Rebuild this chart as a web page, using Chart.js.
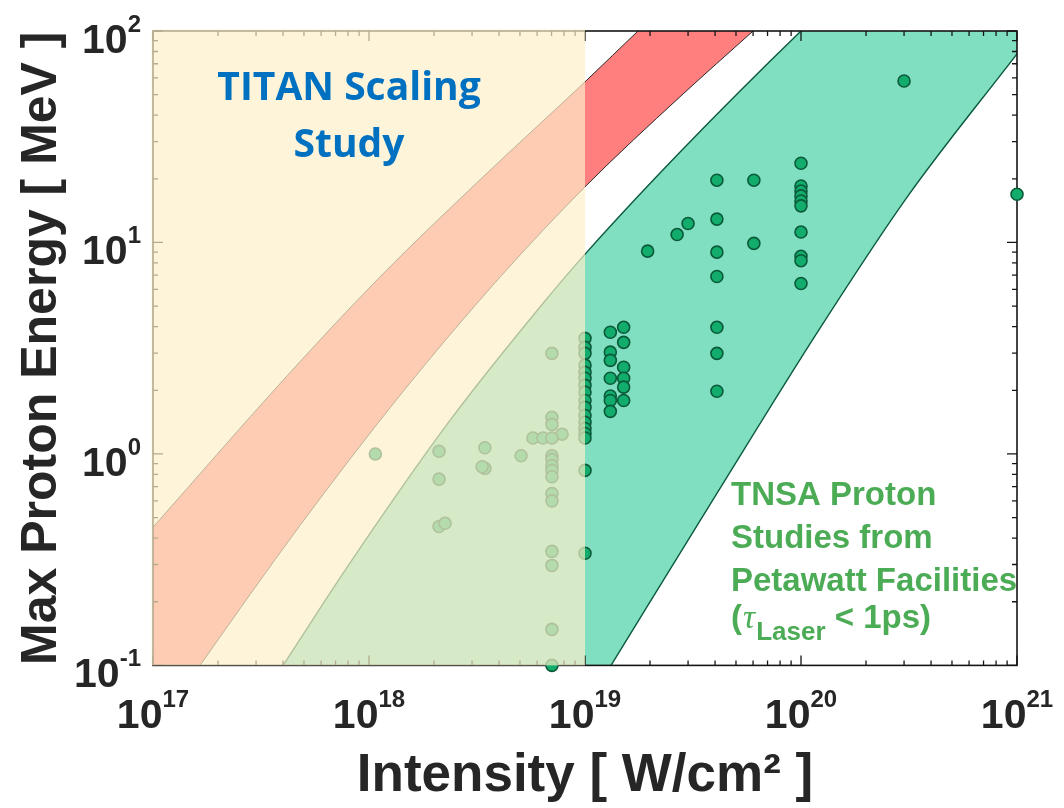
<!DOCTYPE html>
<html>
<head>
<meta charset="utf-8">
<script src="https://cdn.jsdelivr.net/npm/chart.js@4.4.1/dist/chart.umd.min.js"></script>
<style>
  html, body { margin: 0; padding: 0; background: #ffffff; }
  #wrap { width: 1064px; height: 808px; position: relative; }
  canvas { display: block; }
</style>
</head>
<body>
<div id="wrap"><canvas id="chart" width="1064" height="808"></canvas></div>
<script>
// ---- axes ----
const xRange = [1e17, 1e21];          // laser intensity, W/cm^2
const yRange = [0.1, 100];            // max proton energy, MeV
const xDecadeExps = [17, 18, 19, 20, 21];
const yDecadeExps = [-1, 0, 1, 2];
const titanLimitIntensity = 1e19;     // TITAN study covers intensities below this

// ---- scaling bands: intensity (W/cm^2) and energy (MeV) along each edge ----
const redUpperI   = [1e17, 4.0e17, 1.12e18, 3.37e18, 1.02e19, 1.76e19, 6.0e19];
const redUpperE   = [0.45, 2.23, 6.85, 20.4, 58.6, 100, 320];
const redLowerI   = [1e17, 1.65e17, 4.8e17, 1.39e18, 4.04e18, 1.02e19, 2.75e19, 6.0e19];
const redLowerE   = [0.048, 0.1, 0.46, 1.89, 6.85, 18.7, 48.8, 100];
const greenUpperI = [4.0e17, 8.2e17, 2.37e18, 6.4e18, 1.02e19, 2.75e19, 1.0e20, 1.0e21];
const greenUpperE = [0.1, 0.307, 1.44, 5.16, 9.0, 26.7, 100, 900];
const greenLowerI = [4.0e17, 1.32e19, 4.08e19, 1.19e20, 3.1e20, 1.0e21];
const greenLowerE = [0.0003, 0.1, 0.651, 3.76, 16.4, 78];

// ---- measured shots: intensity (W/cm^2) and max proton energy (MeV) ----
const shotIntensity = [
  1.07e18,
  2.11e18, 2.11e18, 2.11e18, 2.25e18,
  3.44e18, 3.44e18, 3.34e18,
  5.06e18, 5.74e18, 6.39e18, 7.83e18,
  7.03e18, 7.03e18, 7.03e18, 7.03e18, 7.03e18, 7.03e18, 7.03e18, 7.03e18,
  7.03e18, 7.03e18, 7.03e18, 7.03e18, 7.03e18, 7.03e18, 7.03e18,
  1e19, 1e19, 1e19, 1e19, 1e19, 1e19, 1e19, 1e19, 1e19,
  1e19, 1e19, 1e19, 1e19, 1e19, 1e19, 1e19, 1e19,
  1.31e19, 1.31e19, 1.31e19, 1.31e19, 1.31e19, 1.31e19, 1.31e19,
  1.51e19, 1.51e19, 1.51e19, 1.51e19, 1.51e19, 1.51e19,
  1.95e19, 2.67e19, 3.0e19,
  4.08e19, 4.08e19, 4.08e19, 4.08e19, 4.08e19, 4.08e19, 4.08e19,
  6.05e19, 6.05e19,
  1e20, 1e20, 1e20, 1e20, 1e20, 1e20, 1e20, 1e20, 1e20, 1e20,
  3.0e20, 1e21
];
const shotEnergy = [
  1.0,
  1.03, 0.76, 0.454, 0.47,
  1.07, 0.855, 0.87,
  0.98, 1.19, 1.19, 1.24,
  2.99, 1.49, 1.38, 1.19, 0.98, 0.94, 0.88, 0.836,
  0.78, 0.65, 0.60, 0.346, 0.297, 0.148, 0.1,
  3.52, 3.19, 2.99, 2.63, 2.43, 2.28, 2.11, 1.96, 1.79,
  1.66, 1.52, 1.41, 1.32, 1.25, 1.19, 0.836, 0.339,
  3.76, 3.03, 2.77, 2.28, 1.88, 1.79, 1.59,
  3.97, 3.37, 2.57, 2.28, 2.07, 1.79,
  9.1, 10.9, 12.3,
  19.7, 12.9, 9.0, 6.9, 3.97, 2.99, 1.98,
  19.7, 9.9,
  23.7, 18.5, 17.5, 16.6, 15.7, 14.9, 11.2, 8.6, 8.2, 6.4,
  58, 16.9
];

const pairs = (xs, ys) => xs.map((x, i) => ({ x: x, y: ys[i] }));

const INK = '#262626';
const BOLD = '"Liberation Sans", Arial, Helvetica, sans-serif';

// Frame with inward major/minor ticks on all four sides (drawn before the shots)
const framePlugin = {
  id: 'frame',
  beforeDatasetDraw(chart, args) {
    if (args.index !== 0) return;
    const { ctx, chartArea: a, scales: { x, y } } = chart;
    ctx.save();
    ctx.strokeStyle = '#151515';
    ctx.lineWidth = 1.3;
    ctx.beginPath();
    const xTicks = [];
    for (let e = xDecadeExps[0]; e < xDecadeExps[xDecadeExps.length - 1]; e++) {
      for (let k = 1; k <= 9; k++) xTicks.push({ v: k * Math.pow(10, e), major: k === 1 });
    }
    xTicks.push({ v: xRange[1], major: true });
    xTicks.forEach(t => {
      const px = x.getPixelForValue(t.v);
      const len = t.major ? 10 : 5;
      ctx.moveTo(px, a.bottom); ctx.lineTo(px, a.bottom - len);
      ctx.moveTo(px, a.top); ctx.lineTo(px, a.top + len);
    });
    const yTicks = [];
    for (let e = yDecadeExps[0]; e < yDecadeExps[yDecadeExps.length - 1]; e++) {
      for (let k = 1; k <= 9; k++) yTicks.push({ v: k * Math.pow(10, e), major: k === 1 });
    }
    yTicks.push({ v: yRange[1], major: true });
    yTicks.forEach(t => {
      const py = y.getPixelForValue(t.v);
      const len = t.major ? 10 : 5;
      ctx.moveTo(a.left, py); ctx.lineTo(a.left + len, py);
      ctx.moveTo(a.right, py); ctx.lineTo(a.right - len, py);
    });
    ctx.stroke();
    ctx.lineWidth = 1.6;
    ctx.strokeRect(a.left, a.top, a.right - a.left, a.bottom - a.top);
    ctx.restore();
  }
};

// Pale veil over the low-intensity part of the plot
const veilPlugin = {
  id: 'veil',
  afterDatasetsDraw(chart) {
    const { ctx, chartArea: a, scales: { x } } = chart;
    const x0 = x.getPixelForValue(xRange[0]);
    const x1 = x.getPixelForValue(titanLimitIntensity);
    ctx.save();
    ctx.fillStyle = 'rgba(252,239,201,0.69)';
    ctx.fillRect(x0 - 1.5, a.top - 1.5, x1 - x0 + 1.5, a.bottom - a.top + 1.5);
    ctx.restore();
  }
};

function powerLabel(ctx, exp, anchorX, baseY, align) {
  const baseFont = 'bold 41px ' + BOLD;
  const supFont = 'bold 24px ' + BOLD;
  const sup = String(exp);
  ctx.font = baseFont;
  const wBase = ctx.measureText('10').width;
  ctx.font = supFont;
  const wSup = ctx.measureText(sup).width;
  const total = wBase + wSup;
  const left = align === 'center' ? anchorX - total / 2 : anchorX - total;
  ctx.textAlign = 'left';
  ctx.textBaseline = 'alphabetic';
  ctx.font = baseFont;
  ctx.fillText('10', left, baseY);
  ctx.font = supFont;
  ctx.fillText(sup, left + wBase, baseY - 21);
}

const labelPlugin = {
  id: 'labels',
  afterDraw(chart) {
    const { ctx, chartArea: a, scales: { x, y } } = chart;
    ctx.save();
    ctx.fillStyle = INK;
    xDecadeExps.forEach(e => powerLabel(ctx, e, x.getPixelForValue(Math.pow(10, e)), a.bottom + 63, 'center'));
    yDecadeExps.forEach(e => powerLabel(ctx, e, a.left - 12, y.getPixelForValue(Math.pow(10, e)) + 22, 'right'));

    // TITAN study label
    ctx.fillStyle = '#0070c0';
    ctx.font = 'bold 39px "Open Sans", "Noto Sans", sans-serif';
    ctx.textAlign = 'center';
    ctx.fillText('TITAN Scaling', 349, 100);
    ctx.fillText('Study', 349, 157);

    // TNSA data label
    ctx.fillStyle = 'rgb(76,172,86)';
    ctx.textAlign = 'left';
    ctx.font = 'bold 33px ' + BOLD;
    const lx = 731;
    ctx.fillText('TNSA Proton', lx, 505);
    ctx.fillText('Studies from', lx, 548);
    ctx.fillText('Petawatt Facilities', lx, 591);
    let cx = lx;
    ctx.fillText('(', cx, 628); cx += ctx.measureText('(').width + 1;
    ctx.font = 'italic 34px "Liberation Serif", "DejaVu Serif", serif';
    ctx.fillText('\u03c4', cx, 628); cx += ctx.measureText('\u03c4').width + 1;
    ctx.font = 'bold 26px ' + BOLD;
    ctx.fillText('Laser', cx, 640); cx += ctx.measureText('Laser').width;
    ctx.font = 'bold 33px ' + BOLD;
    ctx.fillText(' < 1ps)', cx, 628);
    ctx.restore();
  }
};

const lineStyle = (color, width) => ({
  type: 'line', borderColor: color, borderWidth: width, pointRadius: 0, pointHoverRadius: 0,
  cubicInterpolationMode: 'monotone', order: 1
});

new Chart(document.getElementById('chart'), {
  type: 'scatter',
  data: {
    datasets: [
      {
        label: 'Measured TNSA shots',
        data: pairs(shotIntensity, shotEnergy),
        backgroundColor: '#12ad6c', borderColor: '#0a5a3a', borderWidth: 1.6,
        pointRadius: 6, pointHoverRadius: 6, clip: false, order: 0
      },
      Object.assign(lineStyle('#0b5a3d', 1.4), { label: 'TNSA upper', data: pairs(greenUpperI, greenUpperE), backgroundColor: '#80dfc0', fill: '+1' }),
      Object.assign(lineStyle('#0b5a3d', 1.4), { label: 'TNSA lower', data: pairs(greenLowerI, greenLowerE), fill: false }),
      Object.assign(lineStyle('#2b2b2b', 1.0), { label: 'TITAN upper', data: pairs(redUpperI, redUpperE), backgroundColor: '#ff7f7f', fill: '+1' }),
      Object.assign(lineStyle('#2b2b2b', 1.0), { label: 'TITAN lower', data: pairs(redLowerI, redLowerE), fill: false })
    ]
  },
  options: {
    responsive: false,
    devicePixelRatio: 1,
    animation: false,
    events: [],
    layout: { padding: { left: 0, right: 47, top: 31, bottom: 0 } },
    plugins: {
      legend: { display: false },
      tooltip: { enabled: false },
      filler: { drawTime: 'beforeDatasetsDraw' }
    },
    scales: {
      x: {
        type: 'logarithmic', min: xRange[0], max: xRange[1], offset: false,
        grid: { display: false, drawTicks: false }, border: { display: false },
        ticks: { display: false },
        title: {
          display: true, text: 'Intensity [ W/cm\u00b2 ]', color: INK,
          font: { family: BOLD, weight: 'bold', size: 53, lineHeight: 1.2 },
          padding: { top: 79, bottom: 0 }
        }
      },
      y: {
        type: 'logarithmic', min: yRange[0], max: yRange[1], offset: false,
        grid: { display: false, drawTicks: false }, border: { display: false },
        ticks: { display: false },
        title: {
          display: true, text: 'Max Proton Energy [ MeV ]', color: INK,
          font: { family: BOLD, weight: 'bold', size: 50, lineHeight: 1.2 },
          padding: { top: 12, bottom: 81 }
        }
      }
    }
  },
  plugins: [framePlugin, veilPlugin, labelPlugin]
});
</script>
</body>
</html>
